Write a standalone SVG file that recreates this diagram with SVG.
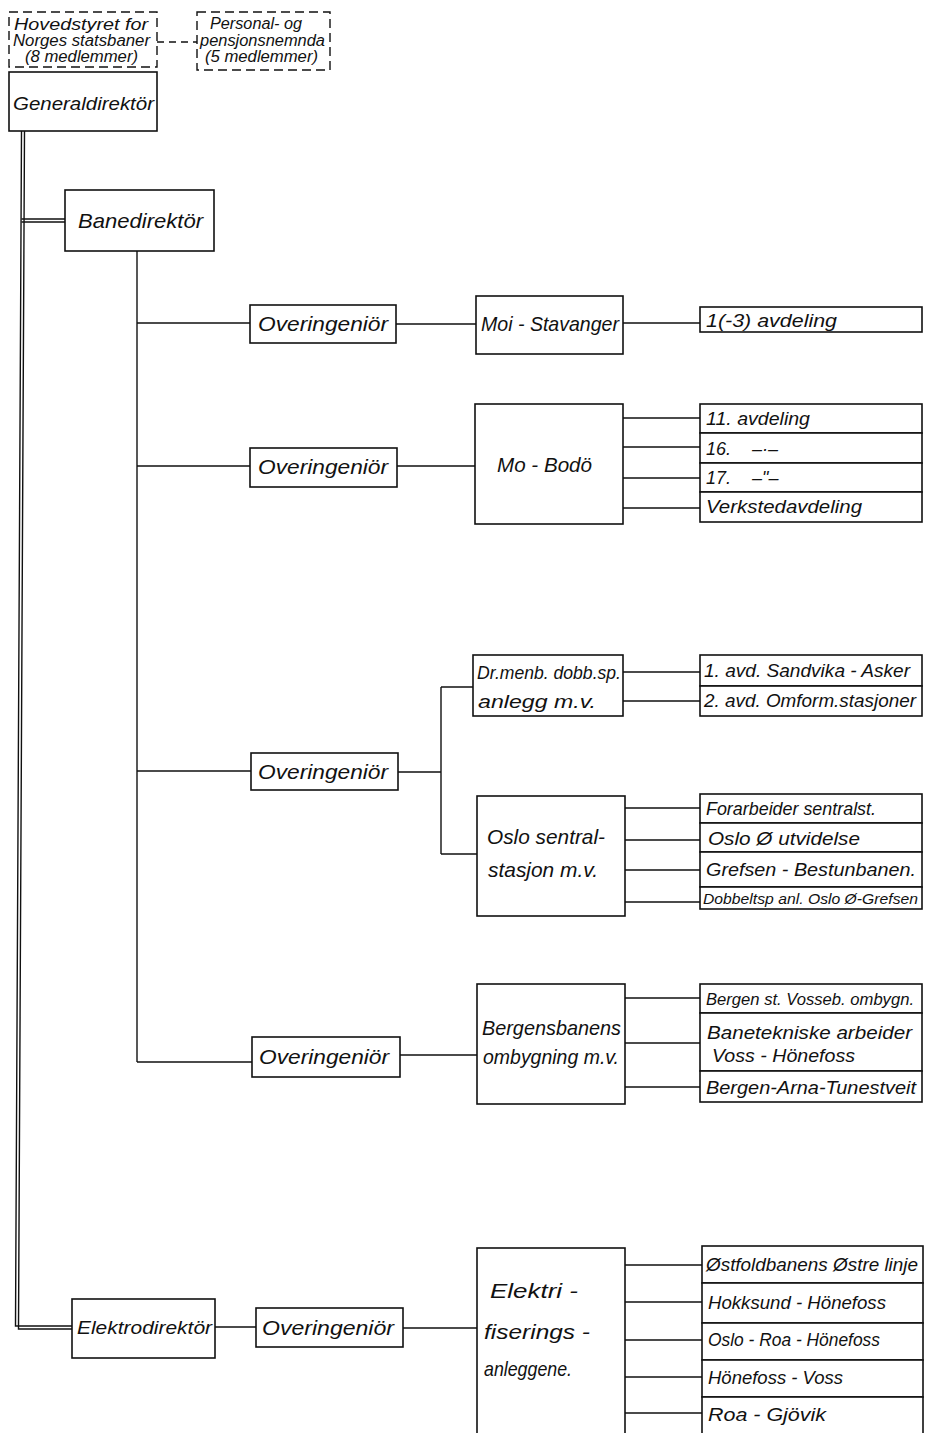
<svg xmlns="http://www.w3.org/2000/svg" width="925" height="1433" viewBox="0 0 925 1433">
<style>
.b{fill:#fff;stroke:#111;stroke-width:1.6}
.d{fill:#fff;stroke:#111;stroke-width:1.4;stroke-dasharray:9 5}
.l{fill:none;stroke:#111;stroke-width:1.4}
.dl{fill:none;stroke:#111;stroke-width:1.4;stroke-dasharray:7 5}
text{font-family:"Liberation Sans",Arial,sans-serif;font-style:italic;fill:#111}
.L{font-size:21px}
.M{font-size:18px}
.S{font-size:16px}
</style>
<rect width="925" height="1433" fill="#fff"/>
<g id="connectors">
<line class="dl" x1="157" y1="42" x2="197" y2="42"/>
<path class="l" d="M21.5,131 L15.5,1326 L72,1326 M24.5,131 L18.5,1329 L72,1329"/>
<path class="l" d="M21.5,219 L65,219 M21.5,222 L65,222"/>
<path class="l" d="M137,251 V1062"/>
<path class="l" d="M137,323 H250 M137,466 H250 M137,771 H251 M137,1062 H252"/>
<path class="l" d="M396,324 H476 M623,323 H700"/>
<path class="l" d="M397,466 H475 M623,418 H700 M623,447 H700 M623,478 H700 M623,508 H700"/>
<path class="l" d="M398,772 H441 M441,687 V854 M441,687 H473 M441,854 H477"/>
<path class="l" d="M623,672 H700 M623,701 H700"/>
<path class="l" d="M625,808 H700 M625,840 H700 M625,870 H700 M625,902 H700"/>
<path class="l" d="M400,1055 H477 M625,998 H700 M625,1043 H700 M625,1087 H700"/>
<path class="l" d="M215,1327 H256 M403,1328 H477"/>
<path class="l" d="M625,1265 H702 M625,1302 H702 M625,1340 H702 M625,1377 H702 M625,1413 H702"/>
</g>
<g id="hovedstyret">
<rect class="d" x="9" y="12" width="148" height="55"/>
<text class="S" x="14" y="30" textLength="134" lengthAdjust="spacingAndGlyphs">Hovedstyret for</text>
<text class="S" x="13" y="46" textLength="137" lengthAdjust="spacingAndGlyphs">Norges statsbaner</text>
<text class="S" x="25" y="62" textLength="113" lengthAdjust="spacingAndGlyphs">(8 medlemmer)</text>
</g>
<g id="personal">
<rect class="d" x="197" y="12" width="133" height="58"/>
<text class="S" x="210" y="29" textLength="92" lengthAdjust="spacingAndGlyphs">Personal- og</text>
<text class="S" x="200" y="46" textLength="125" lengthAdjust="spacingAndGlyphs">pensjonsnemnda</text>
<text class="S" x="205" y="62" textLength="113" lengthAdjust="spacingAndGlyphs">(5 medlemmer)</text>
</g>
<g id="generaldirektor">
<rect class="b" x="9" y="72" width="148" height="59"/>
<text x="13" y="110" font-size="19" textLength="141" lengthAdjust="spacingAndGlyphs">Generaldirektör</text>
</g>
<g id="banedirektor">
<rect class="b" x="65" y="190" width="149" height="61"/>
<text class="L" x="78" y="228" textLength="125" lengthAdjust="spacingAndGlyphs">Banedirektör</text>
</g>
<g id="overing1">
<rect class="b" x="250" y="305" width="146" height="38"/>
<text class="L" x="258" y="331" textLength="130" lengthAdjust="spacingAndGlyphs">Overingeniör</text>
</g>
<g id="moi">
<rect class="b" x="476" y="296" width="147" height="58"/>
<text class="L" x="481" y="331" textLength="138" lengthAdjust="spacingAndGlyphs">Moi - Stavanger</text>
</g>
<g id="moi-avd">
<rect class="b" x="700" y="307" width="222" height="25"/>
<text class="M" x="706" y="327" textLength="131" lengthAdjust="spacingAndGlyphs">1(-3) avdeling</text>
</g>
<g id="overing2">
<rect class="b" x="250" y="448" width="147" height="39"/>
<text class="L" x="258" y="474" textLength="130" lengthAdjust="spacingAndGlyphs">Overingeniör</text>
</g>
<g id="mobodo">
<rect class="b" x="475" y="404" width="148" height="120"/>
<text class="L" x="497" y="472" textLength="95" lengthAdjust="spacingAndGlyphs">Mo - Bodö</text>
</g>
<g id="mobodo-avd">
<rect class="b" x="700" y="404" width="222" height="29"/>
<rect class="b" x="700" y="433" width="222" height="30"/>
<rect class="b" x="700" y="463" width="222" height="29"/>
<rect class="b" x="700" y="492" width="222" height="30"/>
<text class="M" x="706" y="425" textLength="104" lengthAdjust="spacingAndGlyphs">11. avdeling</text>
<text class="M" y="455"><tspan x="706">16.</tspan><tspan x="752">–·–</tspan></text>
<text class="M" y="484"><tspan x="706">17.</tspan><tspan x="752">–"–</tspan></text>
<text class="M" x="706" y="513" textLength="156" lengthAdjust="spacingAndGlyphs">Verkstedavdeling</text>
</g>
<g id="overing3">
<rect class="b" x="251" y="753" width="147" height="37"/>
<text class="L" x="258" y="779" textLength="130" lengthAdjust="spacingAndGlyphs">Overingeniör</text>
</g>
<g id="drmenb">
<rect class="b" x="473" y="655" width="150" height="61"/>
<text class="M" x="477" y="679" textLength="144" lengthAdjust="spacingAndGlyphs">Dr.menb. dobb.sp.</text>
<text class="M" x="478" y="708" textLength="118" lengthAdjust="spacingAndGlyphs">anlegg m.v.</text>
</g>
<g id="drmenb-avd">
<rect class="b" x="700" y="655" width="222" height="31"/>
<rect class="b" x="700" y="686" width="222" height="30"/>
<text class="M" x="704" y="677" textLength="206" lengthAdjust="spacingAndGlyphs">1. avd. Sandvika - Asker</text>
<text class="M" x="704" y="707" textLength="212" lengthAdjust="spacingAndGlyphs">2. avd. Omform.stasjoner</text>
</g>
<g id="oslo">
<rect class="b" x="477" y="796" width="148" height="120"/>
<text class="L" x="487" y="844" textLength="118" lengthAdjust="spacingAndGlyphs">Oslo sentral-</text>
<text class="L" x="488" y="877" textLength="110" lengthAdjust="spacingAndGlyphs">stasjon m.v.</text>
</g>
<g id="oslo-avd">
<rect class="b" x="700" y="794" width="222" height="29"/>
<rect class="b" x="700" y="823" width="222" height="29"/>
<rect class="b" x="700" y="852" width="222" height="35"/>
<rect class="b" x="700" y="887" width="222" height="22"/>
<text class="M" x="706" y="815" textLength="170" lengthAdjust="spacingAndGlyphs">Forarbeider sentralst.</text>
<text class="M" x="708" y="845" textLength="152" lengthAdjust="spacingAndGlyphs">Oslo Ø utvidelse</text>
<text class="M" x="706" y="876" textLength="210" lengthAdjust="spacingAndGlyphs">Grefsen - Bestunbanen.</text>
<text x="703" y="904" font-size="15" textLength="215" lengthAdjust="spacingAndGlyphs">Dobbeltsp anl. Oslo Ø-Grefsen</text>
</g>
<g id="overing4">
<rect class="b" x="252" y="1037" width="148" height="40"/>
<text class="L" x="259" y="1064" textLength="130" lengthAdjust="spacingAndGlyphs">Overingeniör</text>
</g>
<g id="bergen">
<rect class="b" x="477" y="984" width="148" height="120"/>
<text class="L" x="482" y="1035" textLength="139" lengthAdjust="spacingAndGlyphs">Bergensbanens</text>
<text class="L" x="483" y="1064" textLength="136" lengthAdjust="spacingAndGlyphs">ombygning m.v.</text>
</g>
<g id="bergen-avd">
<rect class="b" x="700" y="984" width="222" height="29"/>
<rect class="b" x="700" y="1013" width="222" height="58"/>
<rect class="b" x="700" y="1071" width="222" height="31"/>
<text x="706" y="1005" font-size="16" textLength="208" lengthAdjust="spacingAndGlyphs">Bergen st. Vosseb. ombygn.</text>
<text class="M" x="707" y="1039" textLength="205" lengthAdjust="spacingAndGlyphs">Banetekniske arbeider</text>
<text class="M" x="712" y="1062" textLength="143" lengthAdjust="spacingAndGlyphs">Voss - Hönefoss</text>
<text class="M" x="706" y="1094" textLength="210" lengthAdjust="spacingAndGlyphs">Bergen-Arna-Tunestveit</text>
</g>
<g id="elektrodirektor">
<rect class="b" x="72" y="1299" width="143" height="59"/>
<text class="M" x="77" y="1334" textLength="135" lengthAdjust="spacingAndGlyphs">Elektrodirektör</text>
</g>
<g id="overing5">
<rect class="b" x="256" y="1308" width="147" height="39"/>
<text class="L" x="262" y="1335" textLength="132" lengthAdjust="spacingAndGlyphs">Overingeniör</text>
</g>
<g id="elektri">
<rect class="b" x="477" y="1248" width="148" height="190"/>
<text class="L" x="490" y="1298" textLength="88" lengthAdjust="spacingAndGlyphs">Elektri -</text>
<text class="L" x="484" y="1339" textLength="106" lengthAdjust="spacingAndGlyphs">fiserings -</text>
<text class="L" x="484" y="1376" textLength="88" lengthAdjust="spacingAndGlyphs">anleggene.</text>
</g>
<g id="elektri-avd">
<rect class="b" x="702" y="1246" width="221" height="37"/>
<rect class="b" x="702" y="1283" width="221" height="40"/>
<rect class="b" x="702" y="1323" width="221" height="37"/>
<rect class="b" x="702" y="1360" width="221" height="37"/>
<rect class="b" x="702" y="1397" width="221" height="40"/>
<text class="M" x="706" y="1271" textLength="212" lengthAdjust="spacingAndGlyphs">Østfoldbanens Østre linje</text>
<text class="M" x="708" y="1309" textLength="178" lengthAdjust="spacingAndGlyphs">Hokksund - Hönefoss</text>
<text class="M" x="708" y="1346" textLength="172" lengthAdjust="spacingAndGlyphs">Oslo - Roa - Hönefoss</text>
<text class="M" x="708" y="1384" textLength="135" lengthAdjust="spacingAndGlyphs">Hönefoss - Voss</text>
<text class="M" x="708" y="1421" textLength="118" lengthAdjust="spacingAndGlyphs">Roa - Gjövik</text>
</g>
</svg>
